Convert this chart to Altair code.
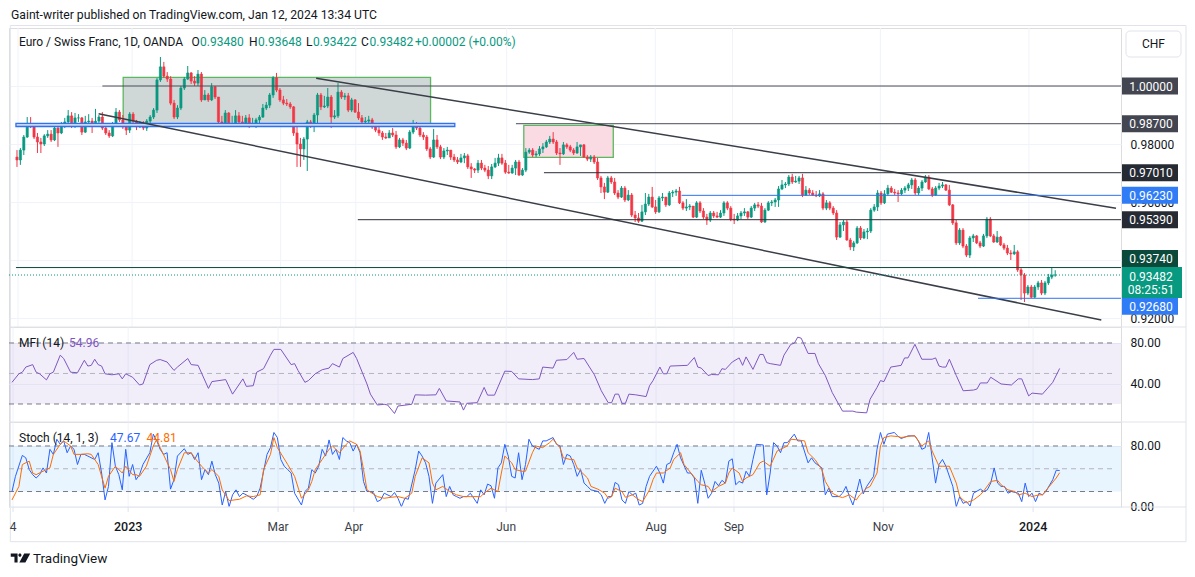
import altair as alt
import pandas as pd

# ---------------- data ----------------
FIRST_OPEN = 0.9755
CLOSE = [0.9745,0.9779,0.9824,0.9869,0.9859,0.9824,0.9807,0.9800,0.9828,0.9834,
0.9814,0.9855,0.9838,0.9862,0.9876,0.9897,0.9862,0.9890,0.9890,0.9841,
0.9876,0.9879,0.9872,0.9879,0.9893,0.9855,0.9838,0.9828,0.9869,0.9910,
0.9883,0.9859,0.9848,0.9903,0.9879,0.9859,0.9869,0.9855,0.9879,0.9893,
0.9917,1.0021,1.0066,1.0034,1.0024,0.9941,0.9893,0.9924,0.9993,1.0024,
1.0045,1.0017,1.0010,1.0041,0.9952,0.9969,0.9952,0.9997,0.9962,0.9876,
0.9869,0.9907,0.9866,0.9869,0.9897,0.9876,0.9872,0.9890,0.9862,0.9869,
0.9883,0.9893,0.9924,0.9934,0.9969,1.0028,0.9986,0.9952,0.9941,0.9938,
0.9928,0.9838,0.9800,0.9783,0.9817,0.9876,0.9862,0.9900,0.9969,0.9928,
0.9931,0.9962,0.9893,0.9897,0.9979,0.9962,0.9966,0.9917,0.9952,0.9910,
0.9890,0.9876,0.9879,0.9883,0.9859,0.9848,0.9838,0.9824,0.9821,0.9838,
0.9831,0.9790,0.9814,0.9803,0.9786,0.9841,0.9862,0.9855,0.9831,0.9824,
0.9783,0.9755,0.9814,0.9790,0.9755,0.9776,0.9779,0.9755,0.9745,0.9738,
0.9752,0.9759,0.9721,0.9714,0.9710,0.9734,0.9717,0.9710,0.9690,0.9721,
0.9734,0.9752,0.9734,0.9703,0.9700,0.9717,0.9738,0.9693,0.9710,0.9772,
0.9779,0.9762,0.9766,0.9783,0.9790,0.9807,0.9817,0.9807,0.9769,0.9766,
0.9797,0.9790,0.9779,0.9769,0.9790,0.9797,0.9755,0.9748,0.9755,0.9738,
0.9683,0.9652,0.9634,0.9683,0.9669,0.9631,0.9617,0.9648,0.9607,0.9624,
0.9555,0.9545,0.9534,0.9566,0.9593,0.9617,0.9583,0.9566,0.9614,0.9617,
0.9590,0.9631,0.9634,0.9638,0.9597,0.9579,0.9583,0.9586,0.9548,0.9597,
0.9569,0.9548,0.9538,0.9562,0.9552,0.9548,0.9562,0.9597,0.9579,0.9541,
0.9538,0.9552,0.9562,0.9566,0.9548,0.9579,0.9590,0.9586,0.9531,0.9572,
0.9597,0.9600,0.9607,0.9645,0.9659,0.9662,0.9686,0.9669,0.9672,0.9683,
0.9624,0.9641,0.9631,0.9624,0.9621,0.9628,0.9579,0.9597,0.9579,0.9562,
0.9479,0.9521,0.9531,0.9469,0.9445,0.9459,0.9510,0.9476,0.9497,0.9500,
0.9572,0.9583,0.9631,0.9597,0.9628,0.9648,0.9634,0.9631,0.9628,0.9641,
0.9648,0.9659,0.9676,0.9631,0.9648,0.9669,0.9686,0.9645,0.9624,0.9648,
0.9655,0.9659,0.9641,0.9590,0.9528,0.9459,0.9503,0.9448,0.9417,0.9476,
0.9483,0.9459,0.9448,0.9483,0.9541,0.9483,0.9462,0.9479,0.9452,0.9441,
0.9424,0.9421,0.9428,0.9366,0.9348,0.9286,0.9307,0.9272,0.9307,0.9321,
0.9286,0.9321,0.9341,0.9348,0.93482]
HIGH = [0.9779,0.9786,0.9831,0.9893,0.9893,0.9862,0.9838,0.9821,0.9834,0.9848,
0.9848,0.9862,0.9869,0.9876,0.9890,0.9917,0.9910,0.9907,0.9903,0.9893,
0.9897,0.9903,0.9890,0.9921,0.9900,0.9910,0.9862,0.9848,0.9876,0.9924,
0.9917,0.9900,0.9872,0.9910,0.9910,0.9883,0.9879,0.9879,0.9886,0.9900,
0.9924,1.0028,1.0100,1.0083,1.0048,1.0034,0.9952,0.9934,1.0000,1.0031,
1.0069,1.0048,1.0034,1.0055,1.0048,0.9986,0.9976,1.0010,1.0000,0.9962,
0.9897,0.9917,0.9910,0.9897,0.9917,0.9910,0.9897,0.9900,0.9903,0.9890,
0.9890,0.9900,0.9938,0.9945,0.9976,1.0034,1.0045,0.9993,0.9966,0.9955,
0.9945,0.9931,0.9872,0.9821,0.9824,0.9883,0.9883,0.9907,0.9976,0.9976,
0.9966,0.9993,0.9969,0.9917,1.0010,0.9986,0.9976,0.9976,0.9959,0.9955,
0.9941,0.9900,0.9893,0.9897,0.9890,0.9866,0.9859,0.9845,0.9838,0.9848,
0.9855,0.9845,0.9821,0.9821,0.9814,0.9848,0.9883,0.9876,0.9859,0.9841,
0.9831,0.9790,0.9852,0.9831,0.9797,0.9786,0.9790,0.9779,0.9766,0.9755,
0.9766,0.9769,0.9766,0.9734,0.9717,0.9745,0.9745,0.9728,0.9724,0.9731,
0.9752,0.9766,0.9766,0.9745,0.9728,0.9728,0.9745,0.9745,0.9717,0.9786,
0.9786,0.9786,0.9776,0.9793,0.9803,0.9814,0.9828,0.9841,0.9814,0.9786,
0.9807,0.9803,0.9797,0.9786,0.9807,0.9797,0.9800,0.9762,0.9762,0.9762,
0.9752,0.9690,0.9666,0.9690,0.9690,0.9683,0.9641,0.9655,0.9655,0.9641,
0.9631,0.9569,0.9562,0.9590,0.9631,0.9628,0.9652,0.9607,0.9621,0.9631,
0.9617,0.9638,0.9641,0.9645,0.9652,0.9603,0.9610,0.9593,0.9586,0.9603,
0.9603,0.9579,0.9559,0.9569,0.9569,0.9566,0.9572,0.9603,0.9603,0.9586,
0.9559,0.9562,0.9569,0.9579,0.9569,0.9586,0.9597,0.9600,0.9597,0.9579,
0.9603,0.9607,0.9614,0.9655,0.9676,0.9669,0.9693,0.9697,0.9690,0.9690,
0.9697,0.9655,0.9648,0.9641,0.9638,0.9641,0.9634,0.9607,0.9603,0.9586,
0.9572,0.9531,0.9538,0.9538,0.9476,0.9466,0.9517,0.9517,0.9507,0.9510,
0.9579,0.9593,0.9641,0.9638,0.9641,0.9659,0.9655,0.9645,0.9641,0.9648,
0.9655,0.9666,0.9683,0.9683,0.9655,0.9676,0.9693,0.9693,0.9652,0.9655,
0.9666,0.9669,0.9662,0.9659,0.9593,0.9538,0.9510,0.9510,0.9455,0.9483,
0.9490,0.9486,0.9466,0.9490,0.9548,0.9548,0.9490,0.9500,0.9483,0.9459,
0.9452,0.9434,0.9452,0.9434,0.9372,0.9355,0.9314,0.9314,0.9314,0.9328,
0.9331,0.9328,0.9352,0.9376,0.93648]
LOW = [0.9721,0.9728,0.9762,0.9821,0.9855,0.9817,0.9769,0.9769,0.9793,0.9821,
0.9807,0.9810,0.9790,0.9834,0.9855,0.9869,0.9855,0.9855,0.9876,0.9831,
0.9838,0.9862,0.9838,0.9862,0.9866,0.9848,0.9831,0.9821,0.9824,0.9866,
0.9876,0.9852,0.9831,0.9838,0.9872,0.9848,0.9855,0.9848,0.9845,0.9872,
0.9886,0.9907,1.0014,1.0028,1.0014,0.9934,0.9886,0.9886,0.9917,0.9986,
1.0021,1.0007,1.0000,1.0000,0.9945,0.9952,0.9945,0.9948,0.9955,0.9869,
0.9862,0.9862,0.9859,0.9859,0.9862,0.9869,0.9859,0.9872,0.9855,0.9859,
0.9855,0.9872,0.9890,0.9917,0.9924,0.9959,0.9979,0.9945,0.9934,0.9931,
0.9921,0.9828,0.9721,0.9721,0.9745,0.9707,0.9855,0.9841,0.9872,0.9917,
0.9924,0.9924,0.9855,0.9886,0.9890,0.9955,0.9952,0.9910,0.9910,0.9907,
0.9883,0.9869,0.9869,0.9862,0.9852,0.9841,0.9828,0.9814,0.9817,0.9821,
0.9824,0.9783,0.9786,0.9793,0.9779,0.9783,0.9834,0.9848,0.9824,0.9814,
0.9776,0.9748,0.9752,0.9783,0.9748,0.9748,0.9762,0.9745,0.9738,0.9731,
0.9734,0.9734,0.9714,0.9683,0.9700,0.9700,0.9710,0.9703,0.9679,0.9679,
0.9717,0.9724,0.9728,0.9697,0.9697,0.9697,0.9693,0.9690,0.9690,0.9703,
0.9766,0.9755,0.9755,0.9759,0.9769,0.9786,0.9800,0.9800,0.9762,0.9728,
0.9762,0.9783,0.9772,0.9762,0.9766,0.9759,0.9752,0.9741,0.9738,0.9731,
0.9676,0.9631,0.9610,0.9631,0.9662,0.9624,0.9610,0.9614,0.9600,0.9603,
0.9548,0.9531,0.9528,0.9531,0.9555,0.9586,0.9579,0.9559,0.9562,0.9603,
0.9583,0.9586,0.9617,0.9621,0.9593,0.9572,0.9569,0.9572,0.9545,0.9545,
0.9562,0.9541,0.9521,0.9531,0.9545,0.9545,0.9545,0.9552,0.9572,0.9534,
0.9524,0.9534,0.9541,0.9552,0.9541,0.9545,0.9569,0.9579,0.9528,0.9528,
0.9569,0.9586,0.9583,0.9583,0.9641,0.9648,0.9655,0.9662,0.9666,0.9662,
0.9617,0.9621,0.9624,0.9621,0.9617,0.9617,0.9572,0.9572,0.9572,0.9555,
0.9469,0.9476,0.9500,0.9466,0.9434,0.9431,0.9455,0.9469,0.9472,0.9472,
0.9493,0.9566,0.9569,0.9590,0.9593,0.9621,0.9631,0.9624,0.9600,0.9624,
0.9631,0.9638,0.9645,0.9624,0.9624,0.9638,0.9666,0.9641,0.9617,0.9621,
0.9641,0.9648,0.9638,0.9586,0.9521,0.9452,0.9452,0.9441,0.9410,0.9407,
0.9462,0.9455,0.9441,0.9445,0.9476,0.9479,0.9459,0.9459,0.9448,0.9434,
0.9417,0.9400,0.9417,0.9359,0.9262,0.9255,0.9279,0.9269,0.9269,0.9297,
0.9279,0.9279,0.9314,0.9334,0.93422]

MFI_X = [0,2,3,4,6,7,8,10,11,12,14,15,17,19,21,22,23,24,25,26,27,29,31,32,33,34,35,37,38,40,
42,43,45,47,48,51,52,54,57,58,62,64,67,68,70,71,73,75,76,78,81,82,83,85,86,88,90,92,93,95,
96,99,100,103,104,106,108,109,111,112,116,117,120,123,124,126,130,131,132,135,137,138,140,143,145,147,151,153,154,157,
158,161,163,164,166,169,171,
173,174,175,176,177,178,179,181,184,185,186,188,189,190,191,196,198,199,200,202,203,205,206,207,209,211,212,213,215,217,
218,219,220,223,224,226,227,228,229,231,233,234,236,238,241,244,245,248,249,251,252,253,255,258,259,260,262,264,267,268,
269,270,271,272,274,276,279,280,281,283,284,287,289,290,292,293,295,296,299,302,304]
MFI_V = [41.3,49.7,51.3,56.3,58.7,51.3,49.7,43.7,49.7,51.3,68,64.7,51.3,50.7,63,57.3,58,64,58.7,57.3,
49.7,48.7,49.7,44.7,49.7,48,46.3,38.7,39.7,58.7,63,63.7,61.3,53,56.3,64.7,58.7,58,35.3,42,
44,29.7,44.7,37.3,38,51.3,54.7,68,73.7,73.7,58.7,59.7,53,41.3,43,49.7,53.7,55.3,59.7,56.3,
64.7,70.7,64.7,39.7,29.7,19,19.7,19,10.7,18,19.7,29,28.7,29,35.3,23,22,14,20.7,21.3,
36.3,28.7,28.7,52.3,52,44.7,44,44.7,56.3,55.3,63,63.7,70.7,64,64.7,48.7,33,
21.3,21.3,29.7,29.7,20.7,20.7,29.7,29,27.3,38,43,56.3,49.7,49.7,57.3,58,65.7,56.3,55.3,48,
49,48.7,54.7,54,61.3,65.3,58,66.3,54,68.7,68.7,60.7,59.7,58,68,78.7,79.7,85.7,84.7,69.7,
69.7,59.7,48,31.3,13,13,12,11.3,24.7,36.3,43,42,56.3,58,65.3,65.3,78.7,64,64,65.3,
57.3,56.3,56.3,64,48,33,33.7,34.7,40.7,40.7,46.3,39.7,39,38.7,44.7,44.7,28,30.7,29.7,41.3,54.96]

K_X = [0,1,3,4,5,6,7,8,9,10,11,12,13,14,15,16,17,18,19,20,21,22,24,25,26,27,28,29,30,31,
32,33,34,35,36,37,38,40,41,42,43,44,45,46,47,48,50,51,52,53,54,55,56,57,58,59,60,61,62,63,
64,65,66,67,68,70,71,72,74,75,76,77,78,79,80,81,82,84,85,86,87,88,89,90,91,92,93,94,95,96,
97,98,99,100,101,102,103,104,105,106,107,108,110,111,112,113,114,115,117,118,119,120,121,122,123,125,126,127,128,129,
130,131,132,133,135,136,137,138,139,140,141,142,143,144,145,146,147,148,149,150,151,153,154,155,157,158,159,160,161,162,
163,164,
165,166,167,168,170,171,172,173,174,175,176,177,178,179,180,181,182,183,184,185,187,188,189,190,191,192,193,194,196,197,
198,199,200,201,202,203,204,205,206,207,208,209,210,211,212,213,214,215,216,218,219,220,221,222,223,224,225,227,228,229,
231,232,233,235,236,237,238,240,241,242,243,244,245,246,247,248,250,251,252,253,254,256,257,258,260,262,263,264,265,266,
267,268,269,270,271,273,274,275,276,277,278,279,281,282,283,284,285,286,287,288,289,290,292,293,294,295,296,297,298,299,
300,302,303,304]
K_V = [20,40,67.6,64.4,48.9,42.2,37.8,42.2,51.1,44.4,75.6,68.9,88.9,82.2,86.7,71.1,80,75.6,55.6,68.9,
68.9,66.7,62.2,71.1,44.4,8.9,26.7,84.4,53.3,42.2,22.2,75.6,40,55.6,35.6,42.2,55.6,71.1,95.6,86.7,
75.6,68.9,71.1,23.1,35.6,66.7,76.4,68.9,71.1,62.2,71.1,35.6,48.9,42.2,60,42.2,31.1,2.2,20,0,
15.6,22.2,13.3,17.8,15.6,9.8,13.3,24.4,68.9,77.8,97.8,91.1,62.2,53.3,48.9,44.4,17.8,2.2,20,24.4,
48.9,44.4,53.3,75.6,66.7,88,68.9,75.6,62.2,91.1,86.7,84.4,73.3,82.2,71.1,33.3,20,20,17.8,6.7,
8.9,17.8,13.3,18.7,11.1,0,11.1,9.8,48.9,73.3,66.7,57.8,40,4.4,31.1,42.2,13.3,26.7,15.6,13.3,
11.1,13.3,13.3,17.8,4.4,22.2,15.6,29.8,27.6,11.1,51.1,57.8,82.2,66.7,40,37.8,71.1,35.6,55.6,88.9,
80,75.6,86.7,86.7,91.1,82.2,80,55.6,68.9,66.7,55.6,40,
48.9,31.1,26.7,22.2,20,15.6,4.4,13.3,13.3,32,28.9,8.9,4.4,20,15.6,17.8,2.2,4.4,26.7,40,
53.3,44.4,31.1,55.6,57.8,71.1,82.2,64.4,44.4,44.4,37.8,4.4,48,31.1,11.1,17.8,33.3,27.6,34.7,31.1,
60,63.1,28.9,33.3,31.1,46.7,40,62.2,82.2,81.3,15.6,44.4,84.4,80,71.1,84.4,84.4,95.6,86.7,86.7,
57.8,64.4,57.8,51.1,15.6,24.4,13.3,13.3,17.8,26.7,13.3,2.2,17.8,36.4,16.9,26.7,40,75.6,97.8,82.2,
95.6,97.8,93.3,89.8,93.3,93.3,86.7,75.6,77.8,97.8,64.4,31.1,55.6,62.2,53.3,26.7,0,13.3,4.4,6.7,
0.9,17.8,23.1,20,22.2,31.1,51.1,31.1,26.7,26.7,17.8,20,17.8,6.7,31.1,13.3,17.8,6.7,17.8,15.6,
20,35.6,48,47.67]

D_X = [0,2,3,5,6,7,9,11,12,14,15,17,18,20,22,23,25,27,28,30,32,33,35,36,37,39,41,42,43,46,
47,48,50,52,53,55,57,58,60,61,63,66,68,70,72,73,75,76,77,80,82,84,86,87,88,90,92,93,95,97,
98,100,101,102,103,106,108,110,112,114,116,117,119,121,122,123,125,127,129,131,133,136,137,139,141,142,143,145,146,148,
149,151,152,154,156,157,159,160,162,163,164,
165,167,168,170,172,173,174,175,177,178,180,182,183,185,186,187,189,191,192,194,195,197,199,200,202,203,205,207,208,209,
211,212,213,215,217,218,220,222,223,225,226,228,230,231,233,235,236,238,240,241,243,245,246,248,249,251,252,253,255,257,
258,261,262,264,266,267,269,270,272,274,275,276,277,279,281,282,284,286,287,289,291,292,294,296,298,299,301,303,304]
D_V = [8.9,26.7,55.6,60,44.4,42.2,46.7,51.1,68.9,82.2,86.7,80,68.9,68.9,69.8,68.9,55.6,24.4,40,53.3,
44.4,53.3,42.2,42.2,40,53.3,80,88.9,77.8,48.9,33.3,48.9,71.1,71.1,64.4,53.3,44.4,48.9,40,22.2,
8,9.8,14.2,13.3,15.6,48.9,68.9,91.1,77.8,55.6,40,11.1,22.2,33.3,48.9,62.2,75.6,80,71.1,82.2,
86.7,82.2,73.3,48.9,22.2,13.3,11.1,12.4,13.3,11.1,17.8,40,64.4,57.8,31.1,22.2,26.7,20,15.6,13.3,
13.3,13.3,17.8,24.4,20,44.4,66.7,57.8,48.9,46.7,46.7,71.1,80,77.8,84.4,88.9,77.8,64.4,62.2,62.2,51.1,
46.7,37.8,26.7,23.1,17.8,11.1,13.3,24.4,20,12.4,15.6,8.9,6.7,22.2,35.6,44.4,44.4,51.1,62.2,71.1,
55.6,44.4,33.3,28.9,26.7,20,26.7,31.1,44.4,51.1,44.4,33.3,37.8,42.2,57.8,60,53.3,73.3,75.6,80,
88.9,88,86.7,71.1,62.2,48.9,33.3,17.8,13.3,12,15.6,8.9,15.6,24.4,26.7,44.4,80,91.1,93.3,92.4,
91.1,93.3,93.3,80,86.7,73.3,53.3,53.3,53.3,31.1,13.3,8.9,5.3,8.9,15.6,20.9,33.3,34.7,28.9,22.2,
20,15.6,17.8,13.3,15.6,15.6,26.7,37.8,44.81]

TICK_X = [0.3, 33.7, 77.2, 99.2, 143.4, 186.9, 209.5, 252.8, 296.3]
TICK_LABEL = ["4", "2023", "Mar", "Apr", "Jun", "Aug", "Sep", "Nov", "2024"]
TICK_YEAR = [False, True, False, False, False, False, False, False, True]
PRICE_TICKS = [0.92, 0.94, 0.96, 0.98, 1.00]

LEVEL_PRICE = [1.0000, 0.9870, 0.9701, 0.9623, 0.9539, 0.9374, 0.9268]
LEVEL_START = [25.0, 146.1, 154.3, 194.6, 99.8, -0.3, 281.4]
LEVEL_KIND = ["gray", "gray", "dark", "blue", "dark", "green", "blue"]
LAST_PRICE = 0.93482
COUNTDOWN = "08:25:51"

TREND_X1 = [87.6, 23.9]
TREND_P1 = [1.00266, 0.99045]
TREND_X2 = [321.8, 317.5]
TREND_P2 = [0.95783, 0.91931]

RANGE_BOX = dict(x1=31.1, x2=121.1, p1=0.98621, p2=1.0030)
PINK_BOX = dict(x1=148.4, x2=174.6, p1=0.97541, p2=0.98645)
BLUE_BAND = dict(x1=-0.3, x2=128.2, p1=0.98603, p2=0.98714)

MFI_LAST, K_LAST, D_LAST = "54.96", "47.67", "44.81"

# ---------------- layout / style ----------------
FONT = "Roboto"
TXT = "#131722"
GRID = "#f0f3fa"
SEP = "#e0e3eb"
UP, DN = "#089981", "#f23645"
W, HP, HM, HS = 1112, 299, 95, 85
XDOM = [-0.87, 321.8]
PDOM = [0.91690, 1.02]
MDOM = [2.3, 95.7]
SDOM = [-0.4, 111.6]
LINE_COL = {"gray": "#4a4d57", "dark": "#2a2e39", "blue": "#2e72f2", "green": "#0b4a3b"}
BADGE_COL = {"gray": "#434651", "dark": "#262a33", "blue": "#2f7cf6", "green": "#0b4a3b"}
BADGE_SHIFT = {0.9374: -9, 0.9268: 8}

ONE = pd.DataFrame({"a": [0]})
xs = alt.Scale(domain=XDOM, nice=False, zero=False)
ps = alt.Scale(domain=PDOM, nice=False, zero=False)
ms = alt.Scale(domain=MDOM, nice=False, zero=False)
ss = alt.Scale(domain=SDOM, nice=False, zero=False)


def xq(f):
    return alt.X(f, type="quantitative", scale=xs, axis=None)


def yq(f, scale):
    # no explicit axis here: the axis is defined once per panel (axis_layer) and merged
    return alt.Y(f, type="quantitative", scale=scale)


def txt(text, x, y, color=TXT, size=12, align="left", weight="normal"):
    return alt.Chart(ONE).mark_text(text=text, align=align, baseline="middle", fontSize=size,
                                    color=color, font=FONT, fontWeight=weight
                                    ).encode(x=alt.value(x), y=alt.value(y))


def axis_layer(values, scale, fmt):
    ax = alt.Axis(orient="right", values=values, format=fmt, title=None, domain=False, ticks=False,
                  grid=True, gridColor=GRID, labelAlign="left", labelPadding=9, labelColor=TXT,
                  labelFontSize=12, labelFont=FONT, labelOverlap=False, labelFlush=False, labelBound=False)
    return alt.Chart(pd.DataFrame({"v": values})).mark_tick(opacity=0).encode(
        y=alt.Y("v:Q", scale=scale, axis=ax))


ticks = pd.DataFrame({"x": TICK_X, "label": TICK_LABEL, "year": TICK_YEAR})
vgrid = alt.Chart(ticks).mark_rule(color=GRID).encode(x=xq("x"))

# ---------------- price panel ----------------
N = len(CLOSE)
OPEN = [FIRST_OPEN] + CLOSE[:-1]
candles = pd.DataFrame({"i": list(range(N)), "open": OPEN, "high": HIGH, "low": LOW, "close": CLOSE})
updown = alt.condition("datum.close >= datum.open", alt.value(UP), alt.value(DN))


def boxchart(b, fill, stroke, sw):
    return alt.Chart(pd.DataFrame([b])).mark_rect(fill=fill, stroke=stroke, strokeWidth=sw).encode(
        x=xq("x1"), x2="x2", y=yq("p1", ps), y2="p2:Q")


range_box = boxchart(RANGE_BOX, "#cfd8d6", "#5cb85f", 1.3)
pink_box = boxchart(PINK_BOX, "#fadbe4", "#5cb85f", 1.3)
blue_band = boxchart(BLUE_BAND, "#c9d7f7", "#2e72f2", 1.3)

wicks = alt.Chart(candles).mark_rule(strokeWidth=1).encode(
    x=xq("i"), y=yq("low", ps), y2="high:Q", color=updown)
bodies = alt.Chart(candles).mark_bar(size=2.2, strokeWidth=0.6).encode(
    x=xq("i"), y=yq("open", ps), y2="close:Q", color=updown, stroke=updown)

trend = alt.Chart(pd.DataFrame({"x1": TREND_X1, "x2": TREND_X2, "p1": TREND_P1, "p2": TREND_P2})
                  ).mark_rule(color="#3a3e48", strokeWidth=1.5).encode(
    x=xq("x1"), x2="x2", y=yq("p1", ps), y2="p2:Q")

levels_df = pd.DataFrame({"price": LEVEL_PRICE, "start": LEVEL_START, "kind": LEVEL_KIND})
levels = alt.Chart(levels_df).mark_rule(strokeWidth=1).encode(
    x=xq("start"), x2=alt.value(W), y=yq("price", ps),
    color=alt.Color("kind:N", scale=alt.Scale(domain=list(LINE_COL), range=list(LINE_COL.values())), legend=None))
last_line = alt.Chart(pd.DataFrame({"price": [LAST_PRICE]})).mark_rule(color=UP, strokeDash=[1, 2]).encode(
    x=alt.value(0), x2=alt.value(W), y=yq("price", ps))


def badge(d, color, x2, top, bottom):
    return alt.Chart(d).mark_rect(color=color, yOffset=top, y2Offset=bottom).encode(
        x=alt.value(W + 1), x2=alt.value(x2), y=yq("price", ps), y2="price:Q")


def badge_text(d, field, off):
    return alt.Chart(d).mark_text(color="white", fontSize=12, font=FONT, yOffset=off).encode(
        x=alt.value(W + 30), y=yq("price", ps), text=f"{field}:N")


badge_layers = []
for p, k in zip(LEVEL_PRICE, LEVEL_KIND):
    d = pd.DataFrame({"price": [p], "label": [f"{p:.5f}"]})
    off = BADGE_SHIFT.get(p, 0)
    badge_layers.append(badge(d, BADGE_COL[k], W + 57, off - 8.5, off + 8.5))
    badge_layers.append(badge_text(d, "label", off + 0.5))
lastd = pd.DataFrame({"price": [LAST_PRICE], "label": [f"{LAST_PRICE:.5f}"], "cd": [COUNTDOWN]})
badge_layers += [badge(lastd, UP, W + 61, -8, 23), badge_text(lastd, "label", 1.5), badge_text(lastd, "cd", 15)]

outer = alt.Chart(ONE).mark_rect(filled=False, stroke=SEP, strokeWidth=1).encode(
    x=alt.value(1.3), x2=alt.value(1177), y=alt.value(-2.5), y2=alt.value(513.7))
chf_box = alt.Chart(ONE).mark_rect(fill="white", stroke=SEP, strokeWidth=1, cornerRadius=4).encode(
    x=alt.value(W + 5), x2=alt.value(W + 60), y=alt.value(3), y2=alt.value(29))

header = [
    txt("Gaint-writer published on TradingView.com, Jan 12, 2024 13:34 UTC", 2, -13, size=12.2),
    txt("Euro / Swiss Franc, 1D, OANDA", 10, 14),
    txt("O", 182.5, 14), txt(f"{OPEN[-1]:.5f}", 191, 14, color=UP),
    txt("H", 240, 14), txt(f"{HIGH[-1]:.5f}", 249, 14, color=UP),
    txt("L", 297, 14), txt(f"{LOW[-1]:.5f}", 304, 14, color=UP),
    txt("C", 352, 14), txt(f"{CLOSE[-1]:.5f}", 360.5, 14, color=UP),
    txt(f"{CLOSE[-1] - OPEN[-1]:+.5f} (+0.00%)", 406, 14, color=UP),
    txt("CHF", W + 32.5, 16, align="center"),
]

price = alt.layer(outer, vgrid, axis_layer(PRICE_TICKS, ps, ".5f"), range_box, pink_box, wicks, bodies,
                  blue_band, trend, levels, last_line, *badge_layers, chf_box, *header
                  ).properties(width=W, height=HP)


# ---------------- MFI panel ----------------
def bands(scale, col):
    band = alt.Chart(pd.DataFrame({"lo": [20], "hi": [80]})).mark_rect(color=col, opacity=0.1).encode(
        x=alt.value(0), x2=alt.value(W), y=yq("lo", scale), y2="hi:Q")
    outer_l = alt.Chart(pd.DataFrame({"v": [20, 80]})).mark_rule(color="#787b86", strokeDash=[5, 4]).encode(
        x=alt.value(0), x2=alt.value(W - 6), y=yq("v", scale))
    mid_l = alt.Chart(pd.DataFrame({"v": [50]})).mark_rule(color="#b2b5be", strokeDash=[5, 4]).encode(
        x=alt.value(0), x2=alt.value(W - 6), y=yq("v", scale))
    return [band, outer_l, mid_l]


sep_top = alt.Chart(ONE).mark_rule(color=SEP, strokeWidth=1).encode(
    x=alt.value(0), x2=alt.value(1177), y=alt.value(0))

mfi_line = alt.Chart(pd.DataFrame({"i": MFI_X, "v": MFI_V})).mark_line(color="#7e57c2", strokeWidth=1).encode(
    x=xq("i"), y=yq("v", ms))
mfi = alt.layer(vgrid, axis_layer([40, 80], ms, ".2f"), *bands(ms, "#7e57c2"), mfi_line, sep_top,
                txt("MFI (14)", 10, 16), txt(MFI_LAST, 60, 16, color="#7e57c2")
                ).properties(width=W, height=HM)

# ---------------- Stoch panel ----------------
k_line = alt.Chart(pd.DataFrame({"i": K_X, "v": K_V})).mark_line(color="#2962ff", strokeWidth=1).encode(
    x=xq("i"), y=yq("v", ss))
d_line = alt.Chart(pd.DataFrame({"i": D_X, "v": D_V})).mark_line(color="#ff6d00", strokeWidth=1).encode(
    x=xq("i"), y=yq("v", ss))
sep_bot = alt.Chart(ONE).mark_rule(color=SEP, strokeWidth=1).encode(
    x=alt.value(0), x2=alt.value(1177), y=alt.value(HS))
xticks = alt.Chart(ticks).mark_rule(color=SEP).encode(x=xq("x"), y=alt.value(HS), y2=alt.value(HS + 5))
xlab_m = alt.Chart(ticks).transform_filter("!datum.year").mark_text(
    fontSize=12, font=FONT, color="#3b3e48", baseline="middle").encode(
    x=xq("x"), y=alt.value(HS + 20), text="label:N")
xlab_y = alt.Chart(ticks).transform_filter("datum.year").mark_text(
    fontSize=12.5, font=FONT, color=TXT, fontWeight=500, baseline="middle").encode(
    x=xq("x"), y=alt.value(HS + 20), text="label:N")

LOGO = ("M-1,-0.45 H-0.3 V0.45 H-0.62 V-0.14 H-1 Z "
        "M-0.22,-0.29 A0.16,0.16 0 1,0 0.1,-0.29 A0.16,0.16 0 1,0 -0.22,-0.29 Z "
        "M0.38,-0.45 H1 L0.5,0.45 H-0.12 Z")
logo = alt.Chart(ONE).mark_point(shape=LOGO, filled=True, size=380, color=TXT, strokeWidth=0, opacity=1).encode(
    x=alt.value(11.5), y=alt.value(HS + 51))

stoch = alt.layer(vgrid, axis_layer([0, 80], ss, ".2f"), *bands(ss, "#2196f3"), k_line, d_line, sep_top,
                  sep_bot, xticks, xlab_m, xlab_y,
                  txt("Stoch (14, 1, 3)", 10, 16), txt(K_LAST, 101, 16, color="#2962ff"),
                  txt(D_LAST, 137.5, 16, color="#ff6d00"),
                  logo, txt("TradingView", 24, HS + 52, size=13.5)
                  ).properties(width=W, height=HS)

chart = alt.vconcat(price, mfi, stoch, spacing=0, bounds="flush", padding=0, background="white"
                    ).configure_view(stroke=None).configure(font=FONT)

chart.save("out.html", embed_options={"renderer": "svg", "actions": False})
